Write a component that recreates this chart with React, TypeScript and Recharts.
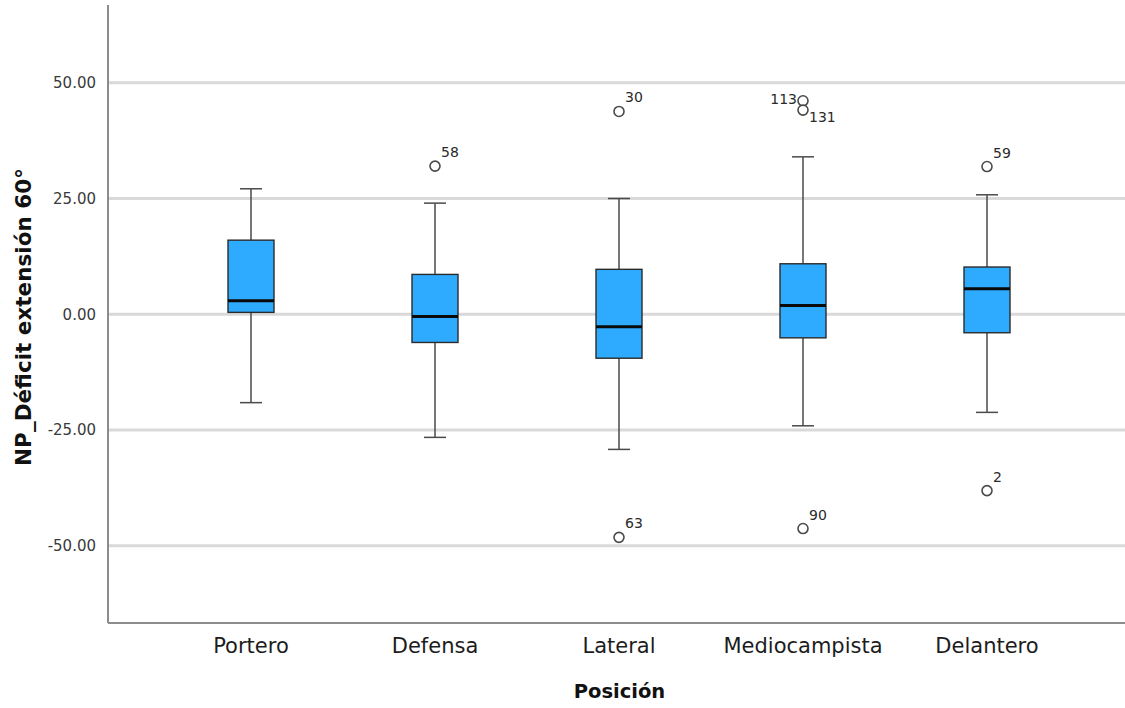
import { ComposedChart, Bar, Scatter, XAxis, YAxis, CartesianGrid } from 'recharts';

const categories = ['Portero', 'Defensa', 'Lateral', 'Mediocampista', 'Delantero'];
const mins = [-19.1, -26.6, -29.2, -24.1, -21.2];
const q1s = [0.4, -6.1, -9.5, -5.1, -4.0];
const medians = [2.9, -0.5, -2.7, 1.9, 5.5];
const q3s = [16.0, 8.6, 9.7, 10.9, 10.2];
const maxs = [27.1, 24.0, 25.0, 34.0, 25.8];

const outlierCats = ['Defensa', 'Lateral', 'Lateral', 'Mediocampista', 'Mediocampista', 'Mediocampista', 'Delantero', 'Delantero'];
const outlierValues = [32.0, 43.8, -48.2, 46.1, 44.1, -46.3, 31.9, -38.1];
const outlierIds = ['58', '30', '63', '113', '131', '90', '59', '2'];

const yTicks = [-50, -25, 0, 25, 50];
const yDomain: [number, number] = [-66.7, 66.8];

// where the case number sits next to its circle (default: up-right)
const labelPlacement: Record<string, [number, number, 'start' | 'end']> = {
  '113': [-6, 3, 'end'],
  '131': [6, 12, 'start'],
};

const boxData = categories.map((name, i) => ({
  name,
  range: [mins[i], maxs[i]],
  min: mins[i],
  q1: q1s[i],
  median: medians[i],
  q3: q3s[i],
  max: maxs[i],
}));

const outlierData = outlierCats.map((name, i) => ({ name, value: outlierValues[i], id: outlierIds[i] }));

const BoxShape = (props: any) => {
  const { x, y, width, height, payload } = props;
  if (!payload || height <= 0) return null;
  const ppu = height / (payload.max - payload.min);
  const py = (v: number) => y + (payload.max - v) * ppu;
  const cx = x + width / 2;
  const cap = 11;
  const whisker = '#4a4a4a';
  return (
    <g>
      <line x1={cx} x2={cx} y1={py(payload.max)} y2={py(payload.q3)} stroke={whisker} strokeWidth={1.5} />
      <line x1={cx} x2={cx} y1={py(payload.q1)} y2={py(payload.min)} stroke={whisker} strokeWidth={1.5} />
      <line x1={cx - cap} x2={cx + cap} y1={py(payload.max)} y2={py(payload.max)} stroke={whisker} strokeWidth={1.5} />
      <line x1={cx - cap} x2={cx + cap} y1={py(payload.min)} y2={py(payload.min)} stroke={whisker} strokeWidth={1.5} />
      <rect
        x={x}
        y={py(payload.q3)}
        width={width}
        height={py(payload.q1) - py(payload.q3)}
        fill="#2eabff"
        stroke="#2b2b2b"
        strokeWidth={1.4}
      />
      <line x1={x} x2={x + width} y1={py(payload.median)} y2={py(payload.median)} stroke="#0a0a0a" strokeWidth={3} />
    </g>
  );
};

const OutlierShape = (props: any) => {
  const { cx, cy, payload } = props;
  const [dx, dy, anchor] = labelPlacement[payload.id] || [6, -9, 'start'];
  return (
    <g>
      <circle cx={cx} cy={cy} r={5} fill="#fff" stroke="#4a4a4a" strokeWidth={1.6} />
      <text x={cx + dx} y={cy + dy} textAnchor={anchor} fontSize={14} fill="#2a2a2a">
        {payload.id}
      </text>
    </g>
  );
};

// grid only at the tick values (no line on the plot's top edge)
const gridRows = ({ offset }: any) =>
  yTicks.map((t) => offset.top + ((yDomain[1] - t) / (yDomain[1] - yDomain[0])) * offset.height);

export default function App() {
  return (
    <div style={{ position: 'absolute', left: 0, top: 0, width: 1125, height: 708, background: '#fff', fontFamily: '"DejaVu Sans", sans-serif' }}>
      <ComposedChart width={1125} height={708} data={boxData} margin={{ top: 5, right: 0, bottom: 0, left: 0 }}>
        <CartesianGrid vertical={false} stroke="#d9d9d9" strokeWidth={3} horizontalCoordinatesGenerator={gridRows} />
        <XAxis
          dataKey="name"
          type="category"
          allowDuplicatedCategory={false}
          padding={{ left: 51, right: 46 }}
          height={85}
          axisLine={{ stroke: '#8c8c8c', strokeWidth: 2 }}
          tickLine={false}
          tickMargin={9}
          tick={{ fontSize: 21, fill: '#1c1c1c' }}
          label={(p: any) => {
            const vb = p.viewBox;
            return (
              <text x={vb.x + vb.width / 2 + 3} y={vb.y + vb.height - 10} textAnchor="middle" fontSize={19.5} fontWeight="bold" fill="#111">
                Posición
              </text>
            );
          }}
        />
        <YAxis
          type="number"
          domain={yDomain}
          ticks={yTicks}
          width={108}
          axisLine={{ stroke: '#8c8c8c', strokeWidth: 2 }}
          tickLine={false}
          tickMargin={6}
          tick={{ fontSize: 15, fill: '#3a3a3a' }}
          tickFormatter={(v: number) => v.toFixed(2)}
          label={(p: any) => {
            const vb = p.viewBox;
            const lx = vb.x + 23;
            const ly = vb.y + vb.height / 2 + 3;
            return (
              <text
                x={lx}
                y={ly}
                transform={`rotate(-90 ${lx} ${ly})`}
                textAnchor="middle"
                dominantBaseline="central"
                fontSize={21.5}
                fontWeight="bold"
                fill="#111"
              >
                NP_Déficit extensión 60°
              </text>
            );
          }}
        />
        <Bar dataKey="range" barSize={46} shape={<BoxShape />} isAnimationActive={false} />
        <Scatter data={outlierData} dataKey="value" shape={<OutlierShape />} isAnimationActive={false} />
      </ComposedChart>
    </div>
  );
}
